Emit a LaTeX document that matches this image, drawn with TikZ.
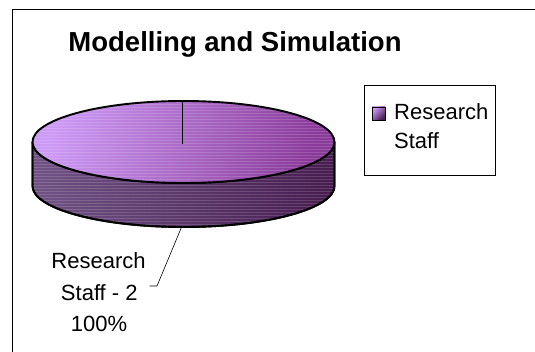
\documentclass[tikz,border=0pt]{standalone}
\usepackage{fontspec}
\setmainfont{Liberation Sans}
\usetikzlibrary{patterns}
\definecolor{topL}{HTML}{CC99F5}
\definecolor{topR}{HTML}{8A3A98}
\definecolor{sideL}{HTML}{705385}
\definecolor{sideR}{HTML}{471C4F}
\tikzset{
  outline/.style={draw=black, line width=1.9pt, line join=round},
  lbl/.style={font=\fontsize{22}{26}\selectfont, inner sep=0pt, anchor=base},
  ttl/.style={font=\fontsize{27.5}{32}\selectfont\bfseries, inner sep=0pt, anchor=base},
  stripes/.style={pattern=horizontal lines, pattern color=white, opacity=0.15},
  leader/.style={draw=black, line width=0.6pt}
}
\begin{document}
\begin{tikzpicture}[x=1pt,y=1pt]
\useasboundingbox (0,0) rectangle (535,351);
\fill[white] (0,0) rectangle (535,351);
% chart frame
\draw[line width=0.8pt] (12,-10) -- (12,342) -- (545,342);
% title
\node[ttl] (title) at (235,299) {Modelling and Simulation};
% pie side
\path[outline, left color=sideL, right color=sideR]
  (32.5,209) -- (32.5,165) arc[start angle=180,end angle=360,x radius=151pt,y radius=41pt]
  -- (334.5,209) arc[start angle=0,end angle=-180,x radius=151pt,y radius=41pt] -- cycle;
\fill[stripes]
  (32.5,209) -- (32.5,165) arc[start angle=180,end angle=360,x radius=151pt,y radius=41pt]
  -- (334.5,209) arc[start angle=0,end angle=-180,x radius=151pt,y radius=41pt] -- cycle;
\draw[outline]
  (32.5,209) -- (32.5,165) arc[start angle=180,end angle=360,x radius=151pt,y radius=41pt]
  -- (334.5,209);
% pie top
\path[shading=axis, left color=topL, right color=topR, shading angle=75]
  (183.5,209) ellipse[x radius=151pt,y radius=41pt];
\fill[stripes] (183.5,209) ellipse[x radius=151pt,y radius=41pt];
\draw[outline] (183.5,209) ellipse[x radius=151pt,y radius=41pt];
\coordinate (ctr) at (182,207);
\coordinate (rim) at (182,250);
\draw[line width=1pt] (rim) -- (ctr);
% data label
\coordinate (pbot) at (182,125);
\node[lbl] (lab1) at (98.5,83) {Research};
\node[lbl] (lab2) at (99.3,51) {Staff - 2};
\node[lbl] (lab3) at (99,20) {100\%};
\coordinate (bend) at (157,65);
\coordinate (tick) at (149.5,65);
\draw[leader] (pbot) -- (bend) -- (tick);
% legend
\node[draw=black, line width=0.8pt, minimum width=131pt, minimum height=90pt, inner sep=0pt] (legend) at (429.5,221) {};
\path[draw=black, line width=0.8pt, left color=topL, right color=sideR, shading angle=45] (372,231) rectangle (385,244);
\node[lbl, anchor=base west] (leg1) at (394,231.5) {Research};
\node[lbl, anchor=base west] (leg2) at (394,202) {Staff};
\end{tikzpicture}
\end{document}
